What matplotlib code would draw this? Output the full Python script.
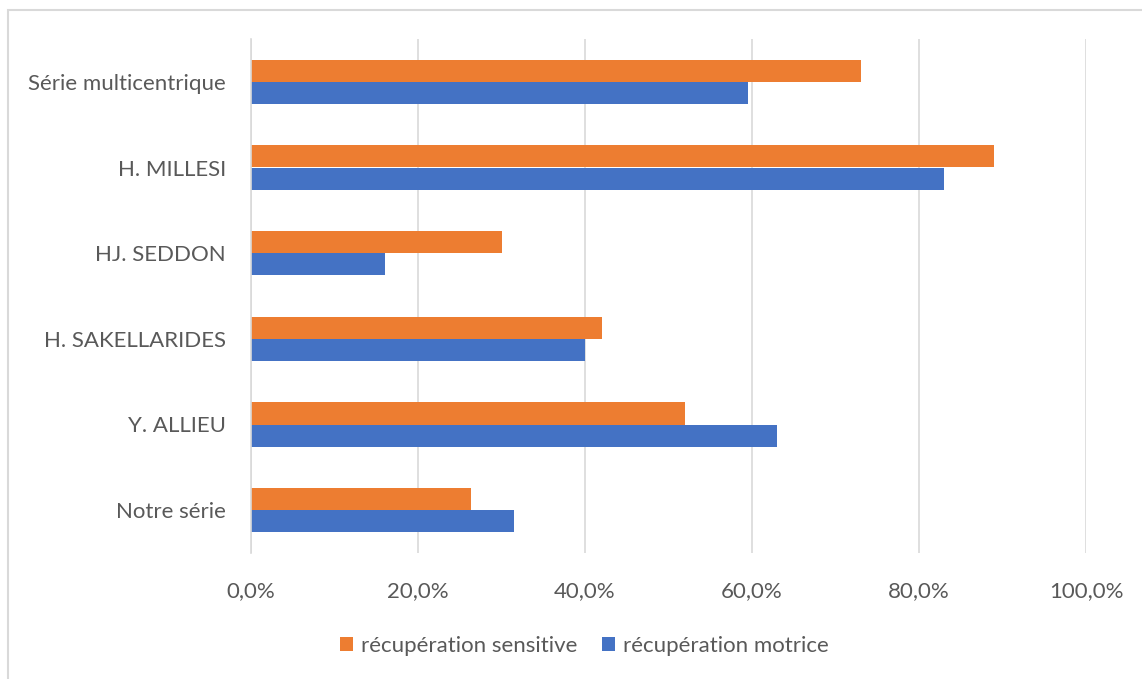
import numpy as np
import matplotlib.pyplot as plt
from matplotlib.patches import Rectangle
from matplotlib.ticker import FuncFormatter

categories = ['Série multicentrique', 'H. MILLESI', 'HJ. SEDDON',
              'H. SAKELLARIDES', 'Y. ALLIEU', 'Notre série']
sensitive = [73.0, 89.0, 30.0, 42.0, 52.0, 26.3]
motrice = [59.5, 83.0, 16.0, 40.0, 63.0, 31.5]

orange = '#ED7D31'
blue = '#4472C4'
grey_text = '#595959'
grid_col = '#D9D9D9'

plt.rcParams['font.family'] = ['Lato', 'DejaVu Sans']

W, H = 1142, 679
fig = plt.figure(figsize=(W / 100, H / 100), dpi=100)
ax = fig.add_axes([251 / W, 1 - 553 / H, (1086 - 251) / W, (553 - 39) / H])

y = np.arange(len(categories))
h = 0.257
ax.barh(y - h / 2, sensitive, height=h, color=orange, label='récupération sensitive')
ax.barh(y + h / 2, motrice, height=h, color=blue, label='récupération motrice')

ax.set_ylim(len(categories) - 0.5, -0.5)
ax.set_xlim(0, 100)
ax.set_xticks(np.arange(0, 101, 20))
ax.xaxis.set_major_formatter(FuncFormatter(lambda v, p: f'{v:.1f}%'.replace('.', ',')))
ax.set_yticks(y)
ax.set_yticklabels(categories)

ax.grid(axis='x', color=grid_col, linewidth=1.2)
ax.set_axisbelow(True)
for s in ['top', 'right', 'bottom']:
    ax.spines[s].set_visible(False)
ax.spines['left'].set_color(grid_col)
ax.spines['left'].set_linewidth(1.2)
ax.tick_params(axis='both', length=0, labelsize=16, colors=grey_text)
ax.tick_params(axis='x', pad=20)
ax.tick_params(axis='y', pad=18)

fig.legend(loc='center', bbox_to_anchor=(584 / W, 1 - 646 / H), ncol=2,
           frameon=False, fontsize=16, labelcolor=grey_text,
           handlelength=0.6, handleheight=0.6, handletextpad=0.35,
           columnspacing=1.1)

# outer chart border
fig.patches.append(Rectangle((8 / W, -0.1), 1.2, 1.1 - 10 / H,
                             transform=fig.transFigure, fill=False,
                             edgecolor='#D9D9D9', linewidth=1.5))

fig.savefig('out.png', dpi=100)
